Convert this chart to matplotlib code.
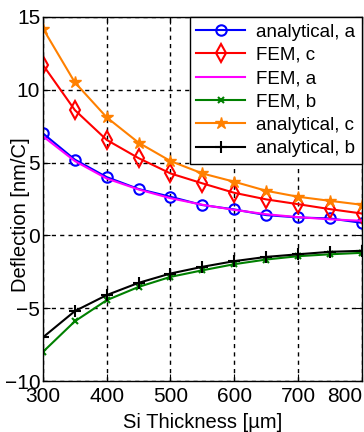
import matplotlib.pyplot as plt

plt.rcParams['font.family'] = ['Liberation Sans', 'DejaVu Sans']

thickness = [300, 350, 400, 450, 500, 550, 600, 650, 700, 750, 800]

analytical_a = [7.0, 5.2, 4.0, 3.18, 2.65, 2.08, 1.78, 1.39, 1.23, 1.16, 0.86]
fem_c = [11.7, 8.6, 6.55, 5.3, 4.25, 3.57, 2.92, 2.47, 2.14, 1.8, 1.5]
fem_a = [6.8, 5.1, 3.9, 3.15, 2.55, 2.1, 1.75, 1.45, 1.25, 1.1, 1.0]
fem_b = [-8.0, -5.9, -4.45, -3.54, -2.85, -2.4, -1.98, -1.66, -1.43, -1.3, -1.2]
analytical_c = [14.2, 10.5, 8.1, 6.36, 5.1, 4.25, 3.68, 3.06, 2.65, 2.37, 2.1]
analytical_b = [-7.0, -5.2, -4.1, -3.26, -2.62, -2.16, -1.77, -1.48, -1.3, -1.13, -1.06]

fig = plt.figure(figsize=(3.64, 4.32), dpi=100)
ax = fig.add_axes([0.118, 0.118, 0.876, 0.843])

ax.plot(thickness, analytical_a, color='blue', marker='o', mfc='none', ms=7.5, mew=1.5, lw=1.5, label='analytical, a')
ax.plot(thickness, fem_c, color='red', marker='d', mfc='none', ms=9, mew=1.5, lw=1.5, label='FEM, c')
ax.plot(thickness, fem_a, color='magenta', lw=1.5, label='FEM, a')
ax.plot(thickness, fem_b, color='green', marker='x', ms=4, mew=1.5, lw=1.5, label='FEM, b')
ax.plot(thickness, analytical_c, color='#ff8000', marker='*', ms=9, lw=1.5, label='analytical, c')
ax.plot(thickness, analytical_b, color='black', marker='+', ms=9, mew=1.5, lw=1.5, label='analytical, b')

ax.set_xlim(300, 800)
ax.set_ylim(-10, 15)
ax.set_xticks([300, 400, 500, 600, 700, 800])
ax.set_yticks([-10, -5, 0, 5, 10, 15])
ax.tick_params(direction='in', labelsize=15, length=5, top=True, right=True)
ax.tick_params(axis='x', pad=4)
ax.tick_params(axis='y', pad=2)
ax.get_xticklabels()[-1].set_horizontalalignment('right')
ax.grid(True, color='black', linestyle=(0, (3, 3)), linewidth=1)
for s in ax.spines.values():
    s.set_linewidth(1)

ax.set_xlabel('Si Thickness [\u00b5m]', fontsize=14.5)
ax.set_ylabel('Deflection [nm/C]', fontsize=14.5)
ax.xaxis.set_label_coords(0.5, -0.088)
ax.yaxis.set_label_coords(-0.041, 0.456)

leg = ax.legend(loc='upper right', fontsize=13.5, handlelength=2.6, handletextpad=0.6,
                borderaxespad=0, labelspacing=0.33, fancybox=False, framealpha=1,
                borderpad=0.35)
leg.get_frame().set_edgecolor('black')
leg.get_frame().set_linewidth(1)

fig.savefig('out.png', dpi=100)
